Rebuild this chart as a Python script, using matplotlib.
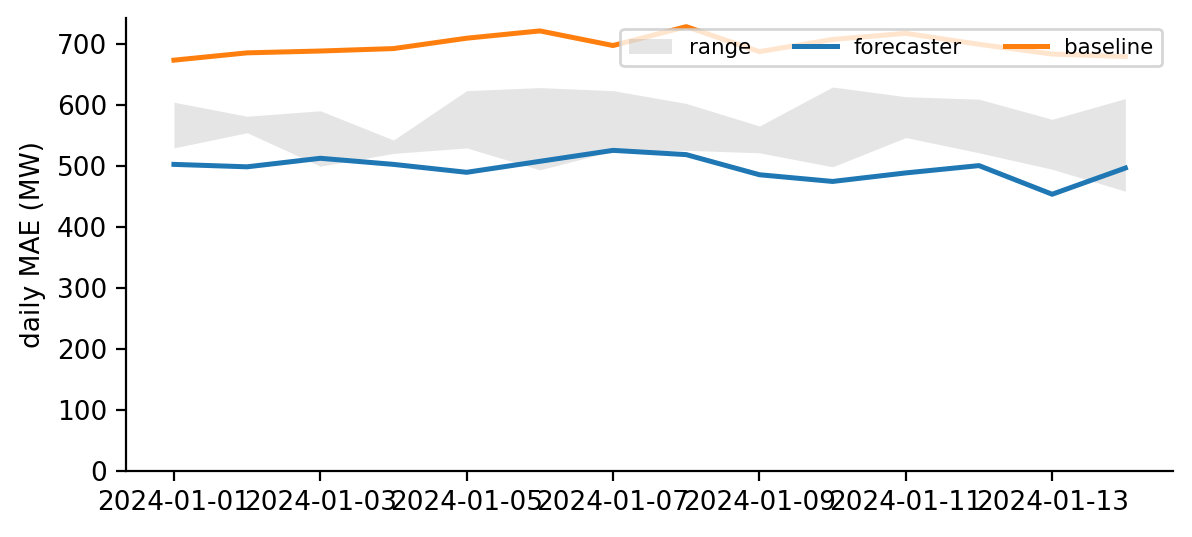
import matplotlib
matplotlib.use("Agg")
import matplotlib.pyplot as plt
import numpy as np
import pandas as pd

dates = pd.date_range("2024-01-01", periods=14, freq="D")
forecaster = [503, 499, 513, 503, 490, 508, 526, 519, 486, 475, 489, 501, 454, 497]
baseline = [674, 686, 689, 693, 710, 722, 698, 729, 688, 708, 718, 700, 684, 680]
range_lo = [530, 555, 500, 521, 530, 494, 525, 526, 522, 499, 547, 522, 495, 459]
range_hi = [605, 582, 591, 543, 624, 629, 624, 603, 566, 630, 614, 610, 577, 611]

plt.rcParams['font.size'] = 9.5

fig, ax = plt.subplots(figsize=(5.96, 2.685), dpi=200)
ax.fill_between(dates, range_lo, range_hi, color='gray', alpha=0.2, lw=0, label='range')
ax.plot(dates, forecaster, color='tab:blue', lw=1.8, label='forecaster')
ax.plot(dates, baseline, color='tab:orange', lw=1.8, label='baseline')
ax.set_ylim(bottom=0)
ax.set_ylabel('daily MAE (MW)')
ax.set_xticks(dates[::2])
ax.set_xticklabels([d.strftime('%Y-%m-%d') for d in dates[::2]])
ax.spines['top'].set_visible(False)
ax.spines['right'].set_visible(False)
ax.legend(loc='upper right', ncol=3, fontsize=7.7)

fig.subplots_adjust(left=0.106, right=0.984, top=0.966, bottom=0.123)
fig.savefig('out.png')
